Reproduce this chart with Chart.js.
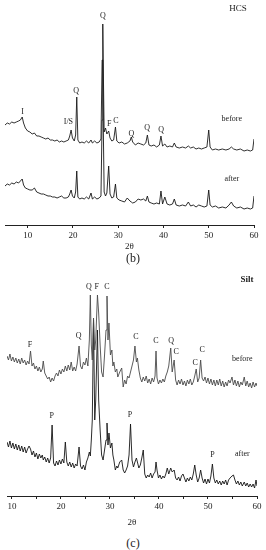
<!DOCTYPE html>
<html>
<head>
<meta charset="utf-8">
<script src="https://cdn.jsdelivr.net/npm/chart.js@4.4.0/dist/chart.umd.min.js"></script>
<style>
  body { margin: 0; background: #fff; }
  #wrap { position: relative; width: 266px; height: 550px; font-family: "Liberation Serif", serif; color: #222; }
  canvas { position: absolute; left: 0; }
  #hcsChart { top: 0; }
  #siltChart { top: 262px; }
  .txt { position: absolute; transform: translate(-50%, -50%); white-space: nowrap; line-height: 1; }
</style>
</head>
<body>
<div id="wrap">
  <canvas id="hcsChart" width="266" height="255"></canvas>
  <canvas id="siltChart" width="266" height="270"></canvas>
  <div class="txt" style="left:238px; top:8px; font-size:9px;">HCS</div>
  <div class="txt" style="left:133px; top:258px; font-size:12px;">(b)</div>
  <div class="txt" style="left:247px; top:279px; font-size:9px; font-weight:bold;">Silt</div>
  <div class="txt" style="left:133px; top:543px; font-size:12px;">(c)</div>
</div>
<script>
// ---- HCS (b) ----
const hcsTheta = [
  5.0, 5.5, 6.0, 6.5, 7.0, 7.5, 8.0, 8.4, 8.8, 9.1,
  9.5, 10.0, 10.5, 11.0, 11.5, 12.0, 12.5, 13.0, 13.5, 14.0,
  14.5, 15.0, 15.5, 16.0, 16.5, 17.0, 17.5, 18.0, 18.5, 19.0,
  19.3, 19.6, 19.9, 20.3, 20.6, 20.85, 21.1, 21.5, 22.0, 22.5,
  23.0, 23.5, 24.0, 24.3, 24.8, 25.3, 25.8, 26.2, 26.45, 26.6,
  26.75, 26.9, 27.2, 27.5, 27.9, 28.2, 28.6, 29.0, 29.4, 29.7,
  30.2, 30.8, 31.4, 32.0, 32.6, 32.9, 33.2, 33.8, 34.4, 35.0,
  35.6, 36.1, 36.45, 36.8, 37.3, 37.9, 38.5, 39.1, 39.45, 39.8,
  40.3, 40.8, 41.4, 42.0, 42.4, 42.8, 43.5, 44.2, 44.9, 45.5,
  46.0, 46.6, 47.2, 47.8, 48.4, 49.0, 49.6, 50.0, 50.3, 50.8,
  51.5, 52.2, 53.0, 53.8, 54.5, 55.0, 55.5, 56.2, 57.0, 57.8,
  58.5, 59.2, 59.7, 60.0
];
const hcsBefore = [
  100, 102, 101, 103, 102, 103, 104, 105, 108, 102,
  97, 94, 93, 91, 92, 89, 89, 88, 87, 86,
  87, 85, 85, 84, 85, 83, 84, 83, 84, 85,
  89, 95, 87, 84, 90, 128, 85, 82, 83, 82,
  84, 82, 85, 82, 84, 82, 83, 86, 165, 201,
  145, 93, 97, 91, 94, 87, 84, 85, 98, 84,
  82, 83, 81, 82, 84, 88, 83, 80, 82, 81,
  80, 82, 90, 80, 79, 80, 78, 80, 89, 79,
  81, 78, 79, 78, 82, 78, 77, 78, 77, 79,
  77, 78, 76, 77, 76, 77, 78, 95, 78, 75,
  76, 75, 76, 75, 76, 78, 76, 75, 76, 74,
  75, 74, 75, 86
];
const hcsAfter = [
  39, 41, 40, 42, 41, 43, 42, 44, 46, 40,
  37, 36, 35, 35, 37, 33, 32, 31, 31, 30,
  29, 29, 28, 28, 27, 28, 29, 27, 27, 28,
  31, 35, 29, 27, 33, 54, 28, 26, 27, 26,
  28, 26, 32, 26, 28, 26, 27, 29, 105, 165,
  85, 33, 29, 32, 59, 31, 27, 28, 41, 27,
  25, 24, 23, 27, 24, 23, 22, 23, 26, 25,
  26, 24, 29, 23, 22, 21, 22, 21, 34, 21,
  28, 21, 20, 21, 26, 20, 19, 20, 19, 23,
  19, 20, 18, 20, 19, 18, 19, 35, 20, 18,
  19, 17, 18, 17, 20, 23, 19, 17, 18, 16,
  17, 16, 17, 29
];
const hcsLabelText = ['I', 'I/S', 'Q', 'Q', 'F', 'C', 'Q', 'Q', 'Q', 'before', 'after'];
const hcsLabelTheta = [8.9, 19.0, 20.7, 26.6, 28.0, 29.5, 32.9, 36.4, 39.5, 55.1, 55.1];
const hcsLabelLevel = [113, 103, 134, 209, 101, 104, 91, 97, 95, 106, 46];
const hcsTicks = [10, 20, 30, 40, 50, 60];

// ---- Silt (c) ----
const siltTheta = [
  9.0, 9.3, 9.6, 9.9, 10.2, 10.5, 10.8, 11.1, 11.4, 11.7,
  12.0, 12.3, 12.6, 12.9, 13.2, 13.5, 13.8, 14.1, 14.4, 14.7,
  15.0, 15.3, 15.6, 15.9, 16.2, 16.4, 16.7, 17.0, 17.3, 17.6,
  17.9, 18.2, 18.5, 18.8, 19.1, 19.4, 19.7, 20.0, 20.3, 20.6,
  20.9, 21.2, 21.5, 21.8, 22.1, 22.4, 22.7, 23.0, 23.3, 23.7,
  24.0, 24.3, 24.6, 24.9, 25.2, 25.5, 25.8, 26.0, 26.2, 26.4,
  26.65, 26.9, 27.1, 27.45, 27.7, 28.0, 28.3, 28.6, 28.9, 29.2,
  29.4, 29.6, 29.8, 30.1, 30.4, 30.6, 30.8, 31.1, 31.4, 31.6,
  32.0, 32.4, 32.7, 33.0, 33.3, 33.6, 33.9, 34.2, 34.5, 34.8,
  35.1, 35.4, 35.6, 35.9, 36.2, 36.5, 36.8, 37.1, 37.4, 37.7,
  38.0, 38.3, 38.6, 38.9, 39.2, 39.4, 39.6, 39.9, 40.2, 40.5,
  40.8, 41.1, 41.4, 41.7, 42.0, 42.4, 42.7, 43.1, 43.4, 43.7,
  44.0, 44.3, 44.6, 44.9, 45.2, 45.5, 45.8, 46.1, 46.4, 46.7,
  47.0, 47.3, 47.6, 47.9, 48.2, 48.5, 48.8, 49.1, 49.4, 49.7,
  50.0, 50.3, 50.6, 50.9, 51.2, 51.5, 51.8, 52.1, 52.4, 52.7,
  53.0, 53.3, 53.6, 53.9, 54.2, 54.5, 54.9, 55.2, 55.5, 55.8,
  56.1, 56.4, 56.7, 57.0, 57.4, 57.7, 58.0, 58.3, 58.6, 58.9,
  59.2, 59.5, 59.8, 60.0
];
const siltBefore = [
  140, 136, 142, 135, 139, 134, 138, 133, 137, 132,
  138, 133, 136, 131, 135, 132, 145, 130, 133, 127,
  130, 125, 129, 124, 127, 135, 123, 120, 117, 119,
  114, 118, 115, 120, 123, 120, 126, 122, 127, 124,
  130, 125, 131, 126, 134, 125, 129, 125, 132, 150,
  130, 127, 134, 131, 138, 130, 156, 201, 151, 136,
  178, 146, 156, 201, 183, 151, 124, 119, 141, 166,
  200, 156, 173, 141, 146, 130, 134, 124, 127, 119,
  124, 128, 109, 116, 112, 120, 118, 124, 130, 136,
  150, 134, 138, 126, 118, 114, 119, 115, 120, 113,
  117, 112, 118, 114, 120, 145, 118, 112, 116, 113,
  117, 114, 120, 124, 130, 148, 124, 136, 116, 111,
  116, 112, 117, 111, 115, 110, 116, 112, 117, 111,
  114, 120, 127, 114, 118, 136, 118, 115, 119, 113,
  118, 112, 117, 111, 116, 110, 116, 111, 117, 110,
  115, 109, 114, 110, 116, 113, 119, 111, 116, 110,
  115, 109, 114, 111, 119, 110, 115, 109, 113, 108,
  114, 109, 113, 110
];
const siltAfter = [
  54, 49, 55, 48, 53, 47, 52, 46, 51, 45,
  50, 44, 49, 43, 47, 50, 47, 41, 45, 39,
  43, 37, 42, 38, 41, 36, 39, 34, 38, 33,
  38, 71, 33, 30, 35, 31, 36, 32, 37, 33,
  54, 34, 30, 34, 29, 33, 28, 32, 30, 49,
  30, 27, 31, 26, 34, 38, 44, 40, 56, 76,
  176, 76, 96, 166, 96, 66, 41, 36, 46, 56,
  73, 51, 63, 48, 53, 41, 36, 26, 30, 28,
  34, 36, 26, 23, 26, 30, 41, 72, 36, 29,
  34, 38, 34, 28, 31, 38, 46, 22, 18, 21,
  19, 23, 18, 22, 24, 34, 26, 18, 21, 17,
  20, 18, 22, 28, 22, 28, 24, 26, 18, 16,
  19, 15, 20, 22, 18, 14, 18, 15, 19, 16,
  22, 31, 21, 14, 18, 26, 18, 13, 17, 12,
  17, 13, 20, 32, 18, 13, 16, 12, 15, 11,
  15, 12, 16, 11, 16, 18, 20, 21, 16, 12,
  15, 11, 14, 10, 14, 10, 13, 9, 12, 9,
  12, 8, 16, 10
];
const siltLabelText = ['F', 'Q', 'Q', 'F', 'C', 'C', 'C', 'Q', 'C', 'C', 'C', 'before', 'P', 'P', 'P', 'after'];
const siltLabelTheta = [13.7, 23.6, 25.7, 27.3, 29.4, 35.3, 39.4, 42.5, 43.5, 47.4, 48.8, 57.0, 18.1, 34.1, 50.9, 57.0];
const siltLabelLevel = [151, 160, 209, 209, 209, 159, 155, 155, 144, 133, 146, 137, 80, 81, 41, 42];
const siltTicks = [10, 15, 20, 25, 30, 35, 40, 45, 50, 55, 60];

const serif = '"Liberation Serif", "Times New Roman", serif';

// draws the phase letters and before/after tags at data positions
const peakLabels = {
  id: 'peakLabels',
  afterDatasetsDraw(chart, args, opts) {
    const { ctx, scales } = chart;
    ctx.save();
    ctx.fillStyle = '#222';
    ctx.font = '8px ' + serif;
    ctx.textAlign = 'center';
    ctx.textBaseline = 'middle';
    opts.text.forEach((t, i) => {
      ctx.fillText(t, scales.x.getPixelForValue(opts.theta[i]), scales.y.getPixelForValue(opts.level[i]));
    });
    ctx.restore();
  }
};

function xrdChart(id, theta, before, after, cfg) {
  const pts = vals => theta.map((t, i) => ({ x: t, y: vals[i] }));
  return new Chart(document.getElementById(id), {
    type: 'line',
    data: {
      datasets: [
        { label: 'before', data: pts(before), borderColor: cfg.beforeColor, borderWidth: 0.9, pointRadius: 0, tension: 0 },
        { label: 'after', data: pts(after), borderColor: '#151515', borderWidth: 0.9, pointRadius: 0, tension: 0 }
      ]
    },
    options: {
      responsive: false,
      animation: false,
      devicePixelRatio: 1,
      layout: { padding: cfg.padding },
      plugins: {
        legend: { display: false },
        tooltip: { enabled: false },
        peakLabels: { text: cfg.labelText, theta: cfg.labelTheta, level: cfg.labelLevel }
      },
      scales: {
        x: {
          type: 'linear',
          min: cfg.xMin,
          max: 60,
          afterBuildTicks: axis => { axis.ticks = cfg.ticks.map(v => ({ value: v })); },
          afterFit: axis => { axis.height = cfg.axisHeight; },
          ticks: {
            autoSkip: false,
            maxRotation: 0,
            padding: 2,
            color: '#222',
            font: { family: serif, size: 9 },
            callback: v => (v % 10 === 0 ? v : '')
          },
          grid: { display: true, drawOnChartArea: false, drawTicks: true, tickLength: 3, color: '#222' },
          border: { display: true, color: '#222', width: 1 },
          title: { display: true, text: '2θ', color: '#222', font: { family: serif, size: 9 }, padding: { top: 0, bottom: cfg.titlePad } }
        },
        y: { display: false, min: 0, max: cfg.yMax }
      }
    },
    plugins: [peakLabels]
  });
}

xrdChart('hcsChart', hcsTheta, hcsBefore, hcsAfter, {
  xMin: 5, yMax: 225, ticks: hcsTicks, axisHeight: 30, titlePad: 3,
  padding: { left: 5, right: 12, top: 0, bottom: 0 },
  beforeColor: '#1a1a1a',
  labelText: hcsLabelText, labelTheta: hcsLabelTheta, labelLevel: hcsLabelLevel
});

xrdChart('siltChart', siltTheta, siltBefore, siltAfter, {
  xMin: 9, yMax: 234, ticks: siltTicks, axisHeight: 36, titlePad: 4,
  padding: { left: 7, right: 9, top: 0, bottom: 0 },
  beforeColor: '#4a4a4a',
  labelText: siltLabelText, labelTheta: siltLabelTheta, labelLevel: siltLabelLevel
});
</script>
</body>
</html>
